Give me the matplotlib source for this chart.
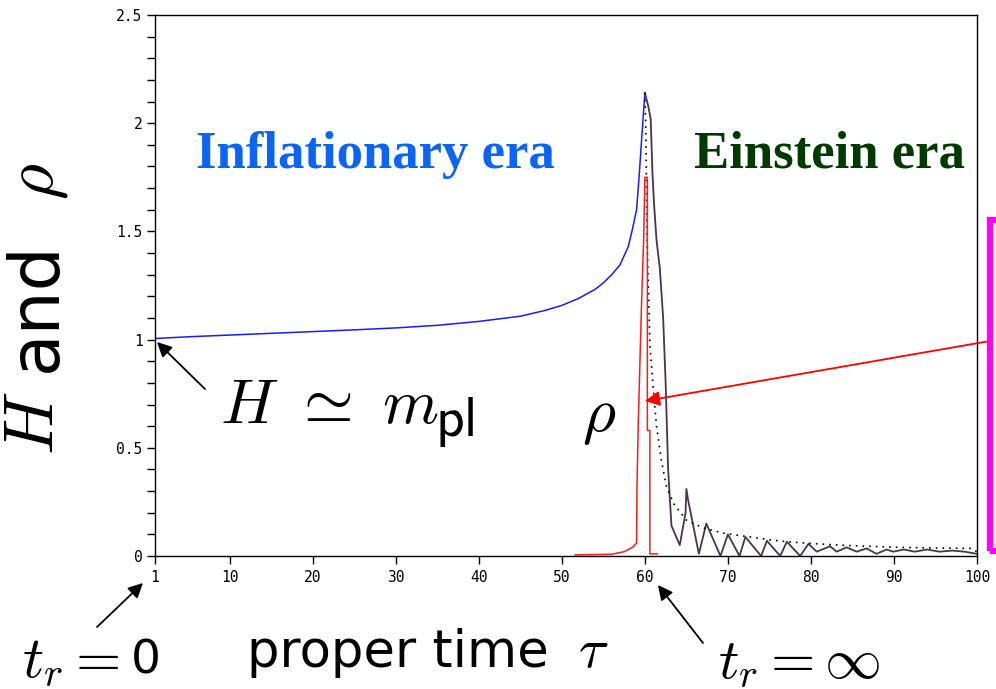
import matplotlib
matplotlib.use("Agg")
import matplotlib.pyplot as plt
from matplotlib.patches import Rectangle
from matplotlib.ticker import FixedLocator, MultipleLocator

plt.rcParams["mathtext.fontset"] = "cm"

# Hubble rate during inflation (tau < 60)
tau_early = [1, 5, 10, 15, 20, 25, 30, 35, 40, 45, 48, 50, 52, 54, 55, 56, 57,
             58, 58.5, 59, 59.3, 59.6, 59.8, 60.0]
H_early = [1.005, 1.013, 1.021, 1.029, 1.037, 1.045, 1.054, 1.066, 1.084, 1.108,
           1.135, 1.158, 1.19, 1.232, 1.262, 1.30, 1.345, 1.43, 1.51, 1.60,
           1.75, 1.92, 2.03, 2.14]

# Hubble rate after the transition (tau > 60), oscillating
tau_late = [60.0, 60.4, 60.7, 60.9, 61.1, 61.4, 61.8, 62.2, 62.5, 62.8, 63.2,
            64.2, 64.9, 65.0, 65.2, 66.5, 67.4, 69.1, 70.0, 71.4, 72.1, 74.0,
            74.7, 76.3, 77.1, 78.7, 79.7, 80.7, 82.3, 83.1, 84.3, 85.5, 86.7,
            87.9, 89.1, 89.9, 91.2, 92.5, 94.0, 95.5, 97.0, 98.5, 100.0]
H_late = [2.14, 2.08, 2.02, 1.78, 1.63, 1.46, 1.33, 1.10, 0.80, 0.40, 0.14,
          0.05, 0.20, 0.31, 0.26, 0.01, 0.15, 0.0, 0.10, 0.0, 0.088, 0.0,
          0.07, 0.0, 0.066, 0.0, 0.056, 0.02, 0.045, 0.02, 0.04, 0.02, 0.035,
          0.01, 0.03, 0.02, 0.03, 0.02, 0.03, 0.02, 0.025, 0.02, 0.01]

# smooth envelope of the late-time Hubble rate
tau_env = [60.0, 60.1, 60.2, 60.3, 60.45, 60.6, 61.0, 61.4, 62.0, 62.6, 63.5,
           65.0, 67.0, 69.5, 72.3, 75.0, 77.1, 80.0, 82.7, 86.0, 90.8, 95.0,
           99.2, 100.0]
H_env = [2.14, 2.0, 1.7, 1.4, 1.2, 0.98, 0.78, 0.60, 0.44, 0.32, 0.24, 0.166,
         0.13, 0.105, 0.09, 0.075, 0.066, 0.058, 0.052, 0.046, 0.04, 0.037,
         0.035, 0.02]

# energy density rho
tau_rho = [51.6, 56.0, 57.5, 58.5, 59.0, 59.05, 59.2, 59.4, 59.6, 59.85, 60.0,
           60.3, 60.3, 60.6, 60.6, 61.5]
rho = [0.005, 0.008, 0.02, 0.04, 0.06, 0.32, 0.61, 0.89, 1.17, 1.46, 1.75,
       1.75, 0.58, 0.58, 0.01, 0.01]

x_ticks = [1, 10, 20, 30, 40, 50, 60, 70, 80, 90, 100]

W, Hpx = 996, 689
fig = plt.figure(figsize=(W / 100, Hpx / 100), dpi=100, facecolor="white")
ax = fig.add_axes([155 / W, 1 - 556 / Hpx, (977 - 155) / W, (556 - 15) / Hpx])

ax.plot(tau_early, H_early, color="#1a1aff", lw=1.1)
ax.plot(tau_late, H_late, color="#4b3350", lw=1.3)
ax.plot(tau_env, H_env, color="black", lw=1.2, ls=(0, (1, 3)))
ax.plot(tau_rho, rho, color="#ff1a1a", lw=1.1)

ax.set_xlim(1, 100)
ax.set_ylim(0, 2.5)
ax.xaxis.set_major_locator(FixedLocator(x_ticks))
ax.yaxis.set_major_locator(MultipleLocator(0.5))
ax.yaxis.set_minor_locator(MultipleLocator(0.1))
ax.yaxis.set_major_formatter(lambda v, p: f"{v:g}")
ax.tick_params(axis="both", which="both", direction="out", length=6,
               width=1.0, labelsize=10.5)
ax.tick_params(axis="x", pad=4)
ax.tick_params(axis="y", pad=3)
for lab in ax.get_xticklabels() + ax.get_yticklabels():
    lab.set_family("DejaVu Sans Mono")
for s in ax.spines.values():
    s.set_linewidth(1.0)


def put(x, y, s, **kw):
    # place text by its baseline start, given in pixels from the top-left
    kw.setdefault("ha", "left")
    kw.setdefault("va", "baseline")
    return fig.text(x / W, 1 - y / Hpx, s, **kw)


# vertical axis title, built from pieces
rot = dict(rotation=90, rotation_mode="anchor")
put(53, 455, r"$H$", fontsize=50, **rot)
put(56, 372, "and", fontsize=50, family="DejaVu Sans", **rot)
put(53, 200, r"$\rho$", fontsize=50, **rot)

# horizontal axis title
put(247, 667, "proper time", fontsize=37, family="DejaVu Sans")
put(578, 667, r"$\tau$", fontsize=40)

# era labels
put(375, 168, "Inflationary era", fontsize=38, weight="bold",
    family="Liberation Serif", color="#0a64f5", ha="center")
put(829, 168, "Einstein era", fontsize=38, weight="bold",
    family="Liberation Serif", color="#003a00", ha="center")

# formula annotations
put(220, 423, r"$H\ \simeq\ m$", fontsize=46)
put(435, 436, r"$\mathsf{pl}$", fontsize=40)
put(582, 431, r"$\rho$", fontsize=46)
put(22, 677, r"$t_r =$", fontsize=42)
put(131, 674, "0", fontsize=34, family="DejaVu Sans")
put(718, 677, r"$t_r = \infty$", fontsize=41)

arrow = dict(arrowstyle="-|>", color="black", lw=1.3, mutation_scale=22,
             shrinkA=0, shrinkB=0)
ax.annotate("", xy=(157, Hpx - 342), xytext=(205, Hpx - 389),
            xycoords="figure pixels", textcoords="figure pixels",
            arrowprops=arrow, annotation_clip=False)
ax.annotate("", xy=(143, Hpx - 583), xytext=(97, Hpx - 627),
            xycoords="figure pixels", textcoords="figure pixels",
            arrowprops=arrow, annotation_clip=False)
ax.annotate("", xy=(658, Hpx - 585), xytext=(703, Hpx - 643),
            xycoords="figure pixels", textcoords="figure pixels",
            arrowprops=arrow, annotation_clip=False)

# red pointer from the side box to the rho spike
ax.annotate("", xy=(645, Hpx - 401), xytext=(990, Hpx - 341),
            xycoords="figure pixels", textcoords="figure pixels",
            arrowprops=dict(arrowstyle="-|>", color="#ff0000", lw=1.3,
                            mutation_scale=22, shrinkA=0, shrinkB=0),
            annotation_clip=False)

fig.patches.append(Rectangle((990 / W, 1 - 551 / Hpx), 40 / W, 331 / Hpx,
                             transform=fig.transFigure, fill=False,
                             edgecolor="#ff00ff", lw=4.5))

fig.savefig("out.png", dpi=100, facecolor="white")
